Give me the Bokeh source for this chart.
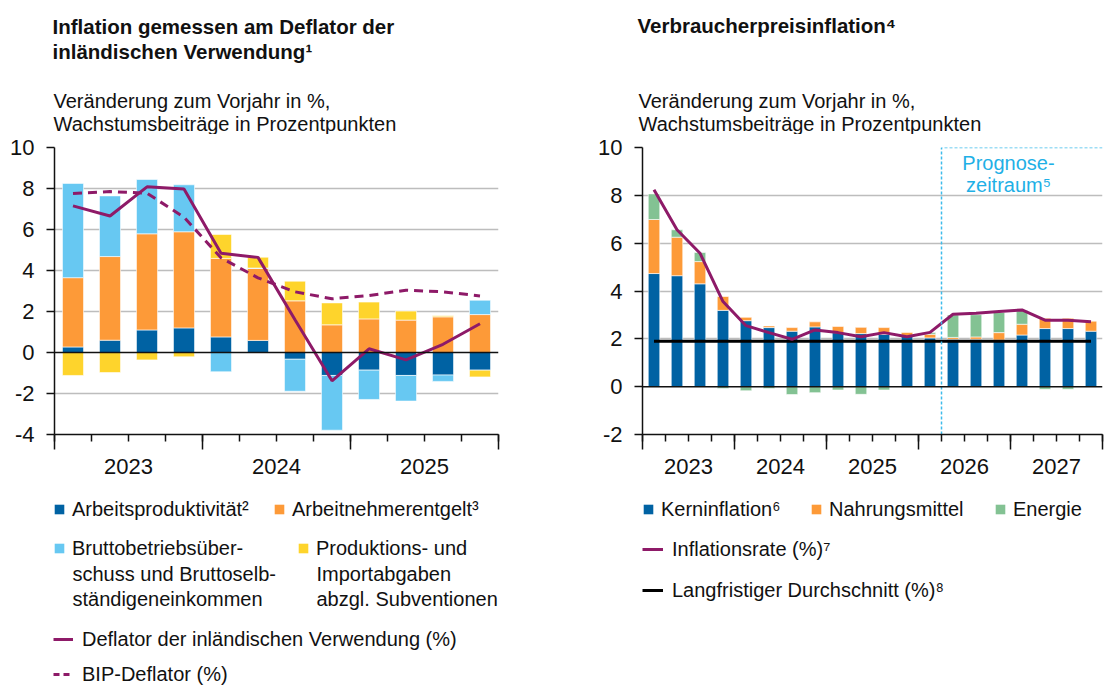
import numpy as np
from bokeh.plotting import figure
from bokeh.models import (ColumnDataSource, FixedTicker, LinearAxis, Label, Legend,
                          LegendItem, Span, Range1d)
from bokeh.layouts import row, column
from bokeh.core.properties import value
from bokeh.embed import file_html
from bokeh.resources import INLINE

# ---------------- data: left chart (2023Q1 .. 2025Q4) ----------------
left_years = ["2023", "2024", "2025"]
arbeitsproduktivitaet = [0.27, 0.60, 1.10, 1.20, 0.76, 0.59, -0.33, -1.12, -0.86, -1.12, -1.10, -0.86]
arbeitnehmerentgelt = [3.38, 4.08, 4.69, 4.69, 3.83, 3.51, 2.52, 1.35, 1.64, 1.58, 1.74, 1.85]
bruttobetriebsueberschuss = [4.60, 2.96, 2.65, 2.29, -0.94, 0.02, -1.56, -2.67, -1.43, -1.25, -0.31, 0.70]
produktionsabgaben = [-1.12, -0.98, -0.36, -0.21, 1.17, 0.53, 0.96, 1.07, 0.82, 0.44, 0.05, -0.33]
deflator_inl_verwendung = [7.15, 6.66, 8.08, 7.98, 4.84, 4.64, 1.60, -1.38, 0.18, -0.36, 0.40, 1.40]
bip_deflator = [7.76, 7.85, 7.77, 6.60, 4.62, 3.64, 2.96, 2.62, 2.78, 3.04, 2.96, 2.76]
left_yticks = [-4, -2, 0, 2, 4, 6, 8, 10]

# ---------------- data: right chart (2023Q1 .. 2027Q4) ----------------
right_years = ["2023", "2024", "2025", "2026", "2027"]
kerninflation = [4.73, 4.64, 4.30, 3.19, 2.76, 2.47, 2.32, 2.50, 2.26, 2.22, 2.19, 2.12,
                 2.04, 1.98, 1.98, 1.95, 2.16, 2.43, 2.43, 2.32]
nahrungsmittel = [2.26, 1.61, 0.93, 0.58, 0.14, 0.07, 0.15, 0.21, 0.26, 0.26, 0.28, 0.15,
                  0.15, 0.08, 0.10, 0.31, 0.45, 0.43, 0.43, 0.43]
energie = [1.07, 0.31, 0.38, -0.08, -0.17, -0.08, -0.33, -0.25, -0.14, -0.32, -0.14, -0.03,
           0.07, 0.94, 0.93, 0.84, 0.57, -0.11, -0.11, 0.00]
inflationsrate = [8.23, 6.56, 5.58, 3.56, 2.55, 2.26, 1.98, 2.37, 2.26, 2.09, 2.26, 2.09,
                  2.27, 3.03, 3.07, 3.14, 3.21, 2.78, 2.78, 2.71]
langfristiger_durchschnitt = 1.9
prognose_start = 13          # first forecast quarter index (2026Q2)
right_yticks = [-2, 0, 2, 4, 6, 8, 10]

# ---------------- styles ----------------
FONT = "Liberation Sans"
TXT = "#111111"
C_BLUE = "#0062a3"
C_ORANGE = "#fd9a38"
C_LBLUE = "#67c8f2"
C_YELLOW = "#fed42c"
C_GREEN = "#83c293"
C_PURPLE = "#8e1a68"
C_GRID = "#bdbdbd"
C_PROG = "#3dbbeb"
C_PROG_TXT = "#1fb0e6"

W_L, W_R = 553, 551
Y_CHART = 134          # page y where chart figures start
Y_LEG = 490            # page y where legend figures start
H_TOTAL = 686
FRAME_TOP = 147
FRAME_H = 287
LABEL_SHIFT = 6        # empirical baseline correction for Label text


def stacks(series):
    n = len(series[0])
    pos = np.zeros(n)
    neg = np.zeros(n)
    out = []
    for s in series:
        s = np.asarray(s, dtype=float)
        bottom = np.where(s >= 0, pos, neg + s)
        top = np.where(s >= 0, pos + s, neg)
        pos = pos + np.clip(s, 0, None)
        neg = neg + np.clip(s, None, 0)
        out.append((bottom, top))
    return out


def blank_fig(width, height):
    p = figure(width=width, height=height, x_range=Range1d(0, 1), y_range=Range1d(0, 1),
               output_backend="svg", toolbar_location=None,
               x_axis_location=None, y_axis_location=None,
               min_border=0, frame_align=False)
    p.outline_line_color = None
    p.grid.visible = False
    return p


def make_chart(width, nq, yticks, years, mbl, mbr):
    h = Y_LEG - Y_CHART
    mbt = FRAME_TOP - Y_CHART
    p = figure(width=width, height=h, x_range=Range1d(0, nq),
               y_range=Range1d(yticks[0], yticks[-1]),
               output_backend="svg", toolbar_location=None,
               min_border_left=mbl, min_border_right=mbr,
               min_border_top=mbt, min_border_bottom=h - mbt - FRAME_H,
               frame_align=False)
    p.outline_line_color = None
    p.xgrid.visible = False
    p.ygrid.ticker = FixedTicker(ticks=[t for t in yticks if t != 0 and t != yticks[0]])
    p.ygrid.grid_line_color = C_GRID
    p.ygrid.grid_line_width = 1.3

    ya = p.yaxis[0]
    ya.ticker = FixedTicker(ticks=yticks)
    ya.major_label_overrides = {t: str(t) for t in yticks}
    ya.major_tick_out = 8
    ya.major_tick_in = 0
    ya.minor_tick_out = 0
    ya.minor_tick_in = 0
    ya.axis_line_width = 1.5
    ya.major_tick_line_width = 1.5
    ya.axis_line_color = TXT
    ya.major_tick_line_color = TXT
    ya.major_label_text_font = FONT
    ya.major_label_text_font_size = "22px"
    ya.major_label_text_color = TXT
    ya.major_label_standoff = 12

    # axis with the quarter ticks (short) and year-boundary ticks (long), no labels
    xa = p.xaxis[0]
    year_bounds = list(range(0, nq + 1, 4))
    xa.ticker = FixedTicker(ticks=year_bounds, minor_ticks=list(range(0, nq + 1)))
    xa.major_tick_out = 15
    xa.major_tick_in = 0
    xa.minor_tick_out = 7
    xa.minor_tick_in = 0
    xa.axis_line_width = 1.5
    xa.major_tick_line_width = 1.5
    xa.minor_tick_line_width = 1.5
    xa.axis_line_color = TXT
    xa.major_tick_line_color = TXT
    xa.minor_tick_line_color = TXT
    xa.major_label_text_font_size = "0px"
    xa.major_label_text_color = None
    xa.major_label_standoff = 0

    # axis carrying the year labels, centred on each year
    centers = [4 * i + 2 for i in range(len(years))]
    xa2 = LinearAxis(ticker=FixedTicker(ticks=centers, minor_ticks=[]),
                     major_label_overrides={c: y for c, y in zip(centers, years)},
                     axis_line_color=None, major_tick_line_color=None,
                     minor_tick_line_color=None, major_tick_out=0, major_tick_in=0,
                     major_label_standoff=9, major_label_text_font=FONT,
                     major_label_text_font_size="22px", major_label_text_color=TXT)
    p.add_layout(xa2, "below")
    return p


def lab(p, x0, ybot, px, py, text, size="20px", bold=False, color=TXT, align="left"):
    p.add_layout(Label(x=px - x0, y=ybot - py + LABEL_SHIFT, x_units="screen", y_units="screen",
                       text=text, text_font=FONT, text_font_size=size,
                       text_font_style="bold" if bold else "normal",
                       text_color=color, text_align=align, text_baseline="alphabetic"))


def leg(p, x0, ybot, px, baseline, text, r, gw=12, gh=12, standoff=7, corr=3.4):
    t = baseline - 16.6 + corr
    lg = Legend(items=[LegendItem(label=value(text), renderers=[r])],
                location=(px - x0, ybot - (t + 20)), orientation="horizontal",
                padding=0, margin=0, spacing=0, glyph_width=gw, glyph_height=gh,
                label_standoff=standoff, label_height=20, label_width=10,
                label_text_font=FONT, label_text_font_size="20px",
                label_text_color=TXT, border_line_color=None,
                background_fill_alpha=0)
    p.add_layout(lg)


def swatch_bar(p, color):
    # invisible zero-size bar, only used to give the legend its colour swatch
    return p.vbar(x=[0], bottom=[0], top=[0], width=0, fill_color=color, line_color=None)


def swatch_line(p, color, dash="solid"):
    return p.line(x=[0, 0], y=[0, 0], line_color=color, line_width=3, line_dash=dash)


# ================= left chart =================
nL = len(arbeitsproduktivitaet)
xL = [i + 0.5 for i in range(nL)]
pL = make_chart(W_L, nL, left_yticks, left_years, 54, 55)
colsL = [C_BLUE, C_ORANGE, C_LBLUE, C_YELLOW]
for (b, t), c in zip(stacks([arbeitsproduktivitaet, arbeitnehmerentgelt,
                             bruttobetriebsueberschuss, produktionsabgaben]), colsL):
    src = ColumnDataSource(dict(x=xL, bottom=b, top=t))
    pL.vbar(x="x", width=0.57, bottom="bottom", top="top", source=src,
            fill_color=c, line_color="white", line_width=0.6)
pL.add_layout(Span(location=0, dimension="width", line_color=TXT, line_width=1.5))
pL.line(xL, deflator_inl_verwendung, line_color=C_PURPLE, line_width=3)
pL.line(xL, bip_deflator, line_color=C_PURPLE, line_width=3, line_dash="9 6")

# title (left)
tL = blank_fig(W_L, Y_CHART)
lab(tL, 0, Y_CHART, 52, 32, "Inflation gemessen am Deflator der", size="20.5px", bold=True)
lab(tL, 0, Y_CHART, 52, 57, "inländischen Verwendung¹", size="20.5px", bold=True)
lab(tL, 0, Y_CHART, 53, 106, "Veränderung zum Vorjahr in %,", size="20px")
lab(tL, 0, Y_CHART, 53, 129, "Wachstumsbeiträge in Prozentpunkten", size="20px")

# legend (left)
HL = H_TOTAL - Y_LEG
gL = blank_fig(W_L, HL)
dL = [swatch_bar(gL, c) for c in colsL]
d_defl = swatch_line(gL, C_PURPLE)
d_bip = swatch_line(gL, C_PURPLE, "6 4")
yb = H_TOTAL
leg(gL, 0, yb, 53, 514, "Arbeitsproduktivität²", dL[0])
leg(gL, 0, yb, 273, 514, "Arbeitnehmerentgelt³", dL[1])
leg(gL, 0, yb, 53, 553, "Bruttobetriebsüber-", dL[2])
lab(gL, 0, yb, 72, 579, "schuss und Bruttoselb-")
lab(gL, 0, yb, 72, 604, "ständigeneinkommen")
leg(gL, 0, yb, 297, 553, "Produktions- und", dL[3])
lab(gL, 0, yb, 316, 579, "Importabgaben")
lab(gL, 0, yb, 316, 604, "abzgl. Subventionen")
leg(gL, 0, yb, 53, 645, "Deflator der inländischen Verwendung (%)", d_defl, gw=20, gh=20, standoff=9, corr=2.4)
leg(gL, 0, yb, 53, 680, "BIP-Deflator (%)", d_bip, gw=20, gh=20, standoff=9, corr=2.4)

# ================= right chart =================
nR = len(kerninflation)
xR = [i + 0.5 for i in range(nR)]
pR = make_chart(W_R, nR, right_yticks, right_years, 89, 2)
colsR = [C_BLUE, C_ORANGE, C_GREEN]
for (b, t), c in zip(stacks([kerninflation, nahrungsmittel, energie]), colsR):
    src = ColumnDataSource(dict(x=xR, bottom=b, top=t))
    pR.vbar(x="x", width=0.5, bottom="bottom", top="top", source=src,
            fill_color=c, line_color="white", line_width=0.6)
pR.add_layout(Span(location=0, dimension="width", line_color=TXT, line_width=1.5))
pR.line(xR, [langfristiger_durchschnitt] * nR, line_color="black", line_width=3)
pR.line(xR, inflationsrate, line_color=C_PURPLE, line_width=3)
pR.line([prognose_start, prognose_start, nR], [right_yticks[0], right_yticks[-1], right_yticks[-1]],
        line_color=C_PROG, line_width=1.5, line_dash="3 2")
FR_L, FR_B = W_L + 89, FRAME_TOP + FRAME_H
lab(pR, FR_L, FR_B, 1008, 168, "Prognose-", size="20px", color=C_PROG_TXT, align="center")
lab(pR, FR_L, FR_B, 1008, 190, "zeitraum⁵", size="20px", color=C_PROG_TXT, align="center")

# title (right)
tR = blank_fig(W_R, Y_CHART)
lab(tR, W_L, Y_CHART, 637, 31, "Verbraucherpreisinflation⁴", size="20.5px", bold=True)
lab(tR, W_L, Y_CHART, 638, 106, "Veränderung zum Vorjahr in %,", size="20px")
lab(tR, W_L, Y_CHART, 638, 129, "Wachstumsbeiträge in Prozentpunkten", size="20px")

# legend (right)
gR = blank_fig(W_R, HL)
dR = [swatch_bar(gR, c) for c in colsR]
d_infl = swatch_line(gR, C_PURPLE)
d_avg = swatch_line(gR, "black")
leg(gR, W_L, yb, 642, 514, "Kerninflation⁶", dR[0])
leg(gR, W_L, yb, 810, 514, "Nahrungsmittel", dR[1])
leg(gR, W_L, yb, 994, 514, "Energie", dR[2])
leg(gR, W_L, yb, 642, 555, "Inflationsrate (%)⁷", d_infl, gw=21, gh=20, standoff=9, corr=2.4)
leg(gR, W_L, yb, 642, 596, "Langfristiger Durchschnitt (%)⁸", d_avg, gw=21, gh=20, standoff=9, corr=2.4)

layout = row(column(tL, pL, gL), column(tR, pR, gR))
open("out.html", "w").write(file_html(layout, INLINE))
